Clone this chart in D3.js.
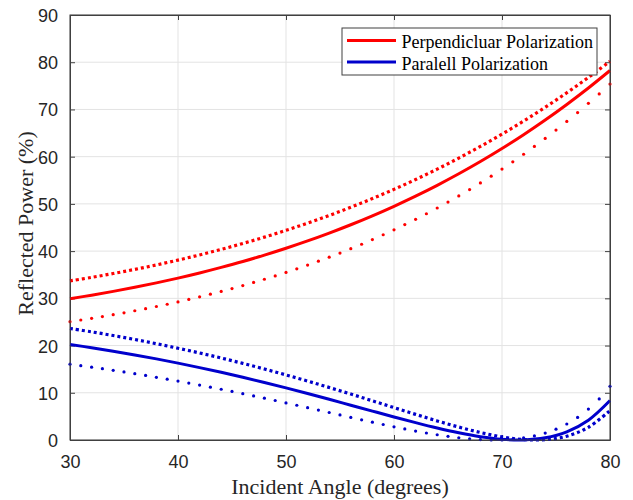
<!DOCTYPE html>
<html><head><meta charset="utf-8">
<script src="https://cdn.jsdelivr.net/npm/d3@7"></script>
<style>body{margin:0;background:#fff}</style>
</head><body>
<script>
// ---- data ----
const anglesFine = [30,31,32,33,34,35,36,37,38,39,40,41,42,43,44,45,46,47,48,49,50,51,52,53,54,55,56,57,58,59,60,61,62,63,64,65,66,67,68,69,70,71,72,73,74,75,76,77,78,79,80];
const anglesCoarse = [30,32,34,36,38,40,42,44,46,48,50,52,54,56,58,60,62,64,66,68,70,72,74,76,78,80];

const perpSolid = [29.93,30.67,31.47,32.33,33.27,34.28,35.37,36.55,37.80,39.15,40.60,42.15,43.81,45.58,47.47,49.49,51.64,53.93,56.37,58.96,61.72,64.65,67.76,71.06,74.54,78.24];
const paraSolid = [20.23,19.54,18.81,18.02,17.18,16.28,15.33,14.33,13.28,12.18,11.03,9.84,8.62,7.37,6.12,4.88,3.67,2.53,1.52,0.69,0.15,0.01,0.46,1.74,4.20,8.36];
const perpUpper = [33.69,34.44,35.25,36.13,37.08,38.10,39.19,40.37,41.62,42.96,44.40,45.93,47.55,49.29,51.13,53.08,55.16,57.36,59.70,62.17,64.78,67.54,70.46,73.54,76.78,80.19];
const paraUpper = [23.62,22.90,22.12,21.29,20.39,19.44,18.43,17.36,16.22,15.03,13.78,12.48,11.12,9.73,8.30,6.86,5.43,4.04,2.74,1.59,0.66,0.10,0.06,0.81,2.69,6.23];
const perpLower = [25.06,25.41,25.77,26.14,26.53,26.94,27.37,27.81,28.27,28.75,29.25,29.77,30.32,30.88,31.46,32.07,32.71,33.36,34.04,34.75,35.49,36.25,37.04,37.86,38.71,39.59,40.51,41.45,42.44,43.46,44.51,45.61,46.74,47.91,49.13,50.38,51.69,53.04,54.43,55.87,57.37,58.91,60.51,62.16,63.87,65.63,67.46,69.34,71.29,73.29,75.37];
const paraLower = [16.05,15.75,15.43,15.10,14.76,14.41,14.04,13.67,13.28,12.89,12.48,12.06,11.63,11.19,10.75,10.29,9.82,9.34,8.86,8.36,7.86,7.36,6.85,6.33,5.82,5.30,4.79,4.28,3.77,3.28,2.80,2.34,1.90,1.48,1.11,0.77,0.48,0.25,0.08,0.01,0.02,0.16,0.43,0.86,1.47,2.30,3.39,4.79,6.54,8.70,11.37];

const xTicks = [30,40,50,60,70,80];
const yTicks = [0,10,20,30,40,50,60,70,80,90];
const legendLabels = ["Perpendicluar Polarization","Paralell Polarization"];
const xLabel = "Incident Angle (degrees)";
const yLabel = "Reflected Power (%)";

// ---- layout ----
const W = 633, H = 500;
const m = {left:70, right:23, top:15, bottom:60};
const RED = "#ff0000", BLUE = "#0000cc";
const AX = "#404040", GRID = "#e3e3e3";

const svg = d3.select("body").append("svg").attr("width",W).attr("height",H);
svg.append("rect").attr("width",W).attr("height",H).attr("fill","#fff");

const x = d3.scaleLinear().domain([30,80]).range([m.left, W-m.right]);
const y = d3.scaleLinear().domain([0,90]).range([H-m.bottom, m.top]);

// grid
const g = svg.append("g");
g.selectAll(".gx").data(xTicks).join("line")
  .attr("x1",d=>x(d)).attr("x2",d=>x(d)).attr("y1",y(0)).attr("y2",y(90))
  .attr("stroke",GRID).attr("stroke-width",1);
g.selectAll(".gy").data(yTicks).join("line")
  .attr("x1",x(30)).attr("x2",x(80)).attr("y1",d=>y(d)).attr("y2",d=>y(d))
  .attr("stroke",GRID).attr("stroke-width",1);

// axes
const tickFont = "Liberation Sans, Arial, sans-serif";
const axB = svg.append("g").attr("transform",`translate(0,${y(0)})`)
  .call(d3.axisBottom(x).tickValues(xTicks).tickSizeInner(-5).tickSizeOuter(0).tickPadding(12));
const axT = svg.append("g").attr("transform",`translate(0,${y(90)})`)
  .call(d3.axisTop(x).tickValues(xTicks).tickSizeInner(-5).tickSizeOuter(0).tickFormat(""));
const axL = svg.append("g").attr("transform",`translate(${x(30)},0)`)
  .call(d3.axisLeft(y).tickValues(yTicks).tickSizeInner(-5).tickSizeOuter(0).tickPadding(12));
const axR = svg.append("g").attr("transform",`translate(${x(80)},0)`)
  .call(d3.axisRight(y).tickValues(yTicks).tickSizeInner(-5).tickSizeOuter(0).tickFormat(""));
[axB,axT,axL,axR].forEach(a=>{
  a.select(".domain").attr("stroke",AX).attr("stroke-width",1);
  a.selectAll(".tick line").attr("stroke",AX);
  a.selectAll(".tick text").attr("fill","#262626").style("font-family",tickFont).style("font-size","18px");
});
axB.selectAll(".tick text").attr("dy","0.9em");
axL.selectAll(".tick text").attr("dy","0.36em");

// lines
const lineC = d3.line().x((d,i)=>x(anglesCoarse[i])).y(d=>y(d)).curve(d3.curveCatmullRom);
const plot = svg.append("g");

function solid(data,color){
  plot.append("path").datum(data).attr("d",lineC).attr("fill","none")
    .attr("stroke",color).attr("stroke-width",3);
}
function dense(data,color){
  plot.append("path").datum(data).attr("d",lineC).attr("fill","none")
    .attr("stroke",color).attr("stroke-width",3.2).attr("stroke-dasharray","3,3");
}
function sparse(data,color){
  plot.append("g").selectAll("circle").data(data).join("circle")
    .attr("cx",(d,i)=>x(anglesFine[i])).attr("cy",d=>y(d)).attr("r",1.6).attr("fill",color);
}
dense(perpUpper,RED);
solid(perpSolid,RED);
sparse(perpLower,RED);
dense(paraUpper,BLUE);
solid(paraSolid,BLUE);
sparse(paraLower,BLUE);

// box on top
svg.append("rect").attr("x",x(30)).attr("y",y(90)).attr("width",x(80)-x(30)).attr("height",y(0)-y(90))
  .attr("fill","none").attr("stroke",AX).attr("stroke-width",1);

// axis labels
const serif = "Liberation Serif, Times New Roman, serif";
svg.append("text").attr("x",(x(30)+x(80))/2).attr("y",494).attr("text-anchor","middle")
  .style("font-family",serif).style("font-size","22px").attr("fill","#262626").text(xLabel);
svg.append("text").attr("transform",`translate(33,${(y(0)+y(90))/2 - 4}) rotate(-90)`).attr("text-anchor","middle")
  .style("font-family",serif).style("font-size","22px").attr("fill","#262626").text(yLabel);

// legend
const lg = svg.append("g");
lg.append("rect").attr("x",342).attr("y",28).attr("width",255).attr("height",47)
  .attr("fill","#fff").attr("stroke","#404040").attr("stroke-width",1);
[RED,BLUE].forEach((c,i)=>{
  const cy = 40.5 + i*21.5;
  lg.append("line").attr("x1",347).attr("x2",396).attr("y1",cy).attr("y2",cy)
    .attr("stroke",c).attr("stroke-width",3);
  lg.append("text").attr("x",401.5).attr("y",cy+7.5)
    .style("font-family",serif).style("font-size","18px").attr("fill","#000").text(legendLabels[i]);
});
</script>
</body></html>
